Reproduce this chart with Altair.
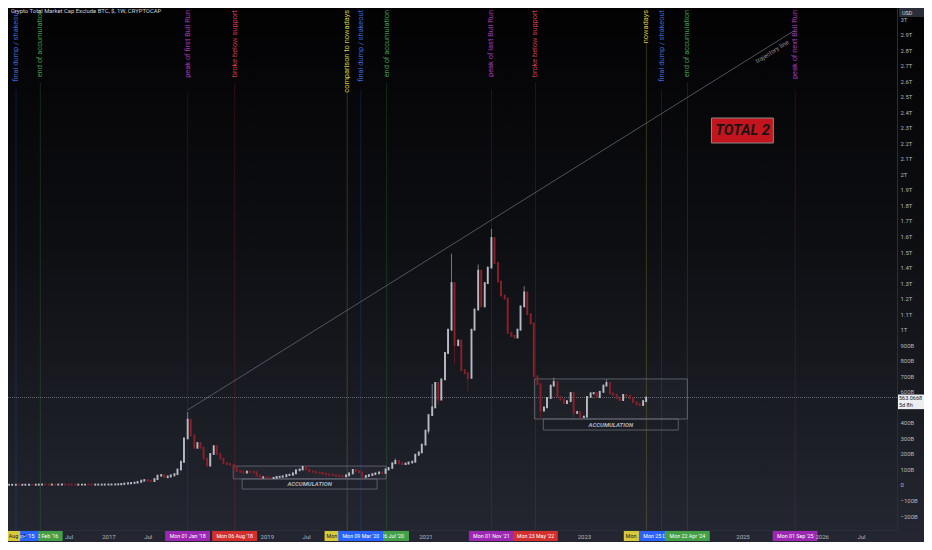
import altair as alt
import pandas as pd

# ---------------- layout ----------------
W, H = 889, 522          # plot area
PAD_R, PAD_B = 27, 12    # right price axis / bottom time axis
X0 = pd.Timestamp("2015-09-26")
X1 = pd.Timestamp("2026-12-14")
Y0, Y1 = -289.8, 3071.5  # USD billions
PPB = H / (Y1 - Y0)
DPP = (X1 - X0) / W

# ---------------- data (semi-monthly candles, close in USD billions) ----------------
close_2015 = [1.4, 1.5, 1.6, 1.4, 1.5, 1.7]
close_2016 = [1.9, 1.8, 2.0, 2.6, 3.3, 2.9, 2.6, 2.8, 2.5, 2.7, 3.4, 3.0,
              2.8, 2.5, 2.3, 2.4, 2.5, 2.6, 2.5, 2.4, 2.5, 2.6, 2.8, 3.0]
close_2017 = [3.2, 3.4, 3.6, 4.5, 6.5, 9, 11, 13, 15, 20, 28, 32,
              28, 25, 38, 60, 64, 50, 55, 62, 70, 100, 150, 300]
close_2018 = [420, 320, 240, 270, 240, 170, 125, 200, 250, 200, 170, 140,
              135, 130, 110, 90, 85, 80, 86, 84, 82, 60, 48, 50]
close_2019 = [47, 45, 46, 52, 53, 56, 64, 66, 75, 95, 100, 116,
              100, 88, 84, 80, 78, 72, 68, 66, 64, 60, 57, 56]
close_2020 = [62, 75, 97, 90, 82, 52, 58, 64, 70, 75, 80, 78,
              100, 110, 140, 155, 140, 135, 138, 145, 150, 195, 210, 260]
close_2021 = [350, 450, 500, 657, 550, 680, 850, 1000, 1300, 900, 930, 740,
              720, 690, 1000, 1130, 1380, 1150, 1300, 1400, 1590, 1430, 1310, 1220]
close_2022 = [1200, 980, 960, 950, 1000, 1150, 1240, 1100, 1040, 700, 650, 480,
              500, 560, 640, 663, 567, 550, 528, 540, 592, 464, 470, 438]
close_2023 = [440, 567, 590, 592, 567, 600, 640, 657, 590, 580, 560, 547,
              580, 575, 560, 534, 520, 515, 540, 563]
wick_high = {"2018-01-01": 470, "2021-02-01": 650, "2021-05-01": 1490, "2021-09-01": 1420,
             "2021-11-01": 1650, "2022-04-01": 1280, "2020-08-15": 170, "2022-08-15": 690,
             "2023-04-15": 680, "2019-06-15": 125}
wick_low = {"2020-03-15": 42, "2021-05-15": 780, "2021-07-15": 600, "2022-06-15": 430,
            "2022-11-15": 430, "2021-01-15": 330, "2021-03-01": 520}

# ---------------- annotations ----------------
ev_dates = ["2016-02-22", "2015-11-02", "2015-08-10", "2018-01-01", "2018-08-06",
            "2020-01-06", "2020-07-06", "2020-03-09", "2021-11-01", "2022-05-23",
            "2023-10-16", "2023-12-25", "2024-04-22", "2025-09-01"]
ev_labels = ["end of accumulation", "final dump / shakeout", "comparison to nowadays",
             "peak of first Bull Run", "broke below support", "comparison to nowadays",
             "end of accumulation", "final dump / shakeout", "peak of last Bull Run",
             "broke below support", "nowadays", "final dump / shakeout",
             "end of accumulation", "peak of next Bull Run"]
ev_tags = ["Mon 22 Feb '16", "Mon 02 Nov '15", "Mon 10 Aug '15", "Mon 01 Jan '18",
           "Mon 06 Aug '18", "Mon 06 Jan '20", "Mon 06 Jul '20", "Mon 09 Mar '20",
           "Mon 01 Nov '21", "Mon 23 May '22", "Mon 16 Oct '23", "Mon 25 Dec '23",
           "Mon 22 Apr '24", "Mon 01 Sep '25"]
ev_kind = ["green", "blue", "yellow", "purple", "red", "yellow", "green", "blue",
           "purple", "red", "yellow", "blue", "green", "purple"]
# tags partly covered by the next tag: only their left part is drawn
ev_tag_visible = [None, None, None, None, None, 16, None, None, None, None, 16, None, None, None]
kind_color = {"green": "#43a047", "blue": "#2962ff", "yellow": "#d8c93a",
              "purple": "#9c27b0", "red": "#d32f2f"}
kind_text = {"green": "#3f9b4a", "blue": "#3a63d8", "yellow": "#d8cc3e",
             "purple": "#a33ab8", "red": "#d23a48"}

acc_start = ["2018-07-30", "2022-05-18"]
acc_end = ["2020-07-04", "2024-04-22"]
acc_low = [39, 425]
acc_high = [122, 683]
accl_start = ["2018-09-09", "2022-06-28"]
accl_end = ["2020-05-23", "2024-03-11"]
accl_low = [-26, 354]
accl_high = [39, 425]
acc_text = ["ACCUMULATION", "ACCUMULATION"]

traj_dates = ["2018-01-01", "2025-09-01"]
traj_values = [483, 2930]
traj_text_date = "2025-05-18"
traj_text_value = 2790

total_box = {"start": "2024-08-11", "end": "2025-05-23", "low": 2202, "high": 2363,
             "mid": "2025-01-01", "text": "TOTAL 2"}
price_now = 563.0668
title = "Crypto Total Market Cap Exclude BTC, $, 1W, CRYPTOCAP"

# ---------------- tables ----------------
closes = close_2015 + close_2016 + close_2017 + close_2018 + close_2019 + \
    close_2020 + close_2021 + close_2022 + close_2023
cdates = pd.date_range("2015-10-01", periods=len(closes), freq="SMS")
rows = []
prev = closes[0]
for d, c in zip(cdates, closes):
    key = d.strftime("%Y-%m-%d")
    o = prev
    hi = max(o, c, wick_high.get(key, 0))
    lo = min(o, c, wick_low.get(key, 1e9))
    rows.append({"date": key, "open": o, "close": c, "high": hi, "low": lo,
                 "dir": "up" if c >= o else "down"})
    prev = c
cdf = pd.DataFrame(rows)

half = DPP * 22.5
ev = []
for i, (d, lab, tag, k) in enumerate(zip(ev_dates, ev_labels, ev_tags, ev_kind)):
    t = pd.Timestamp(d)
    ytop_px = 2 + 3.6 * len(lab) + 4
    ev.append({"idx": i, "date": d, "label": lab, "tag": tag,
               "x1": (t - half).strftime("%Y-%m-%d"), "x2": (t + half).strftime("%Y-%m-%d"),
               "color": kind_color[k], "tcolor": kind_text[k],
               "tagtext": "#131722" if k == "yellow" else "#ffffff",
               "show": bool(t >= X0), "ytop": Y1 - ytop_px / PPB})
evdf = pd.DataFrame(ev)

acc = pd.DataFrame({"start": acc_start, "end": acc_end, "low": acc_low, "high": acc_high})
accl = pd.DataFrame({"start": accl_start, "end": accl_end, "low": accl_low, "high": accl_high,
                     "t": acc_text})
accl["mid"] = [(pd.Timestamp(a) + (pd.Timestamp(b) - pd.Timestamp(a)) / 2).strftime("%Y-%m-%d")
               for a, b in zip(accl_start, accl_end)]
accl["mv"] = [(a + b) / 2 for a, b in zip(accl_low, accl_high)]

traj = pd.DataFrame({"d0": [traj_dates[0]], "d1": [traj_dates[1]],
                     "v0": [traj_values[0]], "v1": [traj_values[1]]})
one = pd.DataFrame({"a": [0]})

# ---------------- scales / axes ----------------
def dt(s):
    t = pd.Timestamp(s)
    return alt.DateTime(year=t.year, month=t.month, date=t.day, utc=True)

xscale = alt.Scale(domain=[dt(X0), dt(X1)], clamp=True)
yscale = alt.Scale(domain=[Y0, Y1], nice=False, zero=False)

xvals = [dt(s) for s in ["2016-07-01", "2017-01-01", "2017-07-01", "2019-01-01", "2019-07-01",
                         "2021-01-01", "2023-01-01", "2025-01-01", "2026-01-01", "2026-07-01"]]
x_axis = alt.Axis(values=xvals, title=None, grid=False, ticks=False,
                  labelExpr="utcmonth(datum.value) == 6 ? 'Jul' : utcyear(datum.value)",
                  labelFontSize=6, labelColor="#b2b5be", labelFont="Roboto", labelPadding=3,
                  domainColor="#2a2e39", zindex=1, labelFlush=False, labelOverlap=False)
# 500B sits behind the live-price tag
yvals = [v for v in range(-200, 3001, 100) if v != 500]
y_axis = alt.Axis(orient="right", values=yvals, title=None, grid=False, ticks=False,
                  labelExpr="datum.value == 0 ? '0' : (abs(datum.value) >= 1000 ? "
                            "format(datum.value / 1000, '.1~f') + 'T' : "
                            "(datum.value < 0 ? '\u2212' + abs(datum.value) : datum.value) + 'B')",
                  labelFontSize=6, labelColor="#b2b5be", labelFont="Roboto", labelPadding=3,
                  labelAlign="left", domainColor="#2a2e39", zindex=1,
                  labelFlush=False, labelOverlap=False)


def X(f):
    return alt.X(f, type="temporal", scale=xscale, axis=x_axis)


def Y(f):
    return alt.Y(f, type="quantitative", scale=yscale, axis=y_axis)


# ---------------- layers ----------------
bg = alt.Chart(one).mark_rect(color=alt.Gradient(
    gradient="linear", x1=0, x2=0, y1=0, y2=1,
    stops=[alt.GradientStop(color="#020203", offset=0),
           alt.GradientStop(color="#0e0f13", offset=0.45),
           alt.GradientStop(color="#242731", offset=1)])).encode(
    x=alt.value(0), x2=alt.value(W + PAD_R), y=alt.value(0), y2=alt.value(H + PAD_B))

base_ev = alt.Chart(evdf).transform_filter("datum.show")
ev_rules = base_ev.mark_rule(strokeWidth=1, opacity=0.22).encode(
    x=X("date"), y=Y("ytop"), y2=alt.value(H), color=alt.Color("color:N", scale=None))
ev_text = base_ev.mark_text(angle=270, align="right", baseline="middle", fontSize=7.4,
                            font="Roboto").encode(
    x=X("date"), y=alt.value(2), text="label:N", color=alt.Color("tcolor:N", scale=None))

acc_rect = alt.Chart(acc).mark_rect(fill="#787b86", fillOpacity=0.06, stroke="#6a6d78",
                                    strokeWidth=0.8).encode(
    x=X("start"), x2="end", y=Y("low"), y2="high")
accl_rect = alt.Chart(accl).mark_rect(fill="#000000", fillOpacity=0, stroke="#6a6d78",
                                      strokeWidth=0.8).encode(
    x=X("start"), x2="end", y=Y("low"), y2="high")
accl_text = alt.Chart(accl).mark_text(fontSize=6, fontStyle="italic", fontWeight="bold",
                                      color="#b2b5be", font="Roboto").encode(
    x=X("mid"), y=Y("mv"), text="t:N")

traj_line = alt.Chart(traj).mark_rule(strokeWidth=0.7, color="#6f727c").encode(
    x=X("d0"), x2="d1", y=Y("v0"), y2="v1")
traj_label = alt.Chart(pd.DataFrame({"d": [traj_text_date], "v": [traj_text_value],
                                     "t": ["trajectory line"]})).mark_text(
    angle=328, fontSize=6.3, color="#8a8d96", font="Roboto").encode(
    x=X("d"), y=Y("v"), text="t:N")

price_df = pd.DataFrame({"p": [price_now], "top": [price_now + 3.0 / PPB],
                         "bot": [price_now - 11.6 / PPB],
                         "t1": [f"{price_now:.4f}"], "t2": ["5d 8h"]})
price_line = alt.Chart(price_df).mark_rule(strokeDash=[1, 1], color="#9598a1", opacity=0.8,
                                           strokeWidth=0.8).encode(y=Y("p"))

wicks = alt.Chart(cdf).mark_rule(strokeWidth=0.8, opacity=0.75).encode(
    x=X("date"), y=Y("high"), y2="low",
    color=alt.Color("dir:N", scale=alt.Scale(domain=["up", "down"],
                                             range=["#b8bbc4", "#8c1f28"]), legend=None))
bodies = alt.Chart(cdf).mark_rule(strokeWidth=1.9, strokeCap="square").encode(
    x=X("date"), y=Y("open"), y2="close",
    color=alt.Color("dir:N", scale=alt.Scale(domain=["up", "down"],
                                             range=["#d8dae0", "#b3262f"]), legend=None))

tb = pd.DataFrame([total_box])
total_rect = alt.Chart(tb).mark_rect(fill="#c4141d", stroke="#8a8a8a", strokeWidth=1).encode(
    x=X("start"), x2="end", y=Y("low"), y2="high")
total_text = alt.Chart(tb).mark_text(fontSize=14.5, fontWeight="bold", fontStyle="italic",
                                     color="#161616", font="Roboto").encode(
    x=X("mid"), y=Y("mid_v:Q"), text="text:N").transform_calculate(
    mid_v="(datum.low + datum.high) / 2")

title_text = alt.Chart(one).mark_text(text=title, align="left", baseline="top", fontSize=5.9,
                                      color="#d1d4dc", font="Roboto").encode(
    x=alt.value(3), y=alt.value(0))

usd_box = alt.Chart(one).mark_rect(fill="#2a2e39").encode(
    x=alt.value(W + 2), x2=alt.value(W + PAD_R), y=alt.value(0), y2=alt.value(9))
usd_text = alt.Chart(one).mark_text(text="USD", align="left", baseline="middle", fontSize=5.5,
                                    color="#d1d4dc", font="Roboto").encode(
    x=alt.value(W + 5), y=alt.value(4.5))

price_box = alt.Chart(price_df).mark_rect(fill="#eceef2").encode(
    x=alt.value(W), x2=alt.value(W + PAD_R), y=Y("top"), y2="bot")
price_t1 = alt.Chart(price_df).mark_text(align="left", baseline="middle", fontSize=5.5,
                                         color="#131722", font="Roboto").encode(
    x=alt.value(W + 2), y=Y("p"), text="t1:N")
price_t2 = alt.Chart(price_df).mark_text(align="left", baseline="middle", fontSize=5.5, dy=7,
                                         color="#131722", font="Roboto").encode(
    x=alt.value(W + 2), y=Y("p"), text="t2:N")

tag_layers = []
for i in range(len(ev_dates)):
    b = alt.Chart(evdf).transform_filter(alt.datum.idx == i)
    tag_layers.append(b.mark_rect().encode(
        x=X("x1"), x2="x2", y=alt.value(H + 1), y2=alt.value(H + 11),
        color=alt.Color("color:N", scale=None)))
    vis = ev_tag_visible[i]
    if vis is None:
        tmark = b.mark_text(fontSize=5.3, baseline="middle", font="Roboto")
        xenc = X("date")
    else:
        tmark = b.mark_text(fontSize=5.3, baseline="middle", font="Roboto", align="left",
                            dx=2, limit=vis, ellipsis="")
        xenc = X("x1")
    tag_layers.append(tmark.encode(
        x=xenc, y=alt.value(H + 6), text="tag:N",
        color=alt.Color("tagtext:N", scale=None)))

chart = alt.layer(
    bg, ev_rules, ev_text, acc_rect, accl_rect, accl_text, traj_line, traj_label,
    price_line, wicks, bodies, total_rect, total_text, title_text,
    usd_box, usd_text, price_box, price_t1, price_t2, *tag_layers
).properties(
    width=W, height=H,
    autosize=alt.AutoSizeParams(type="none"),
    padding={"left": 0, "top": 0, "right": PAD_R, "bottom": PAD_B},
).configure_view(strokeWidth=0).configure(background="#131722")

chart.save("out.html", embed_options={"renderer": "svg", "actions": False})
